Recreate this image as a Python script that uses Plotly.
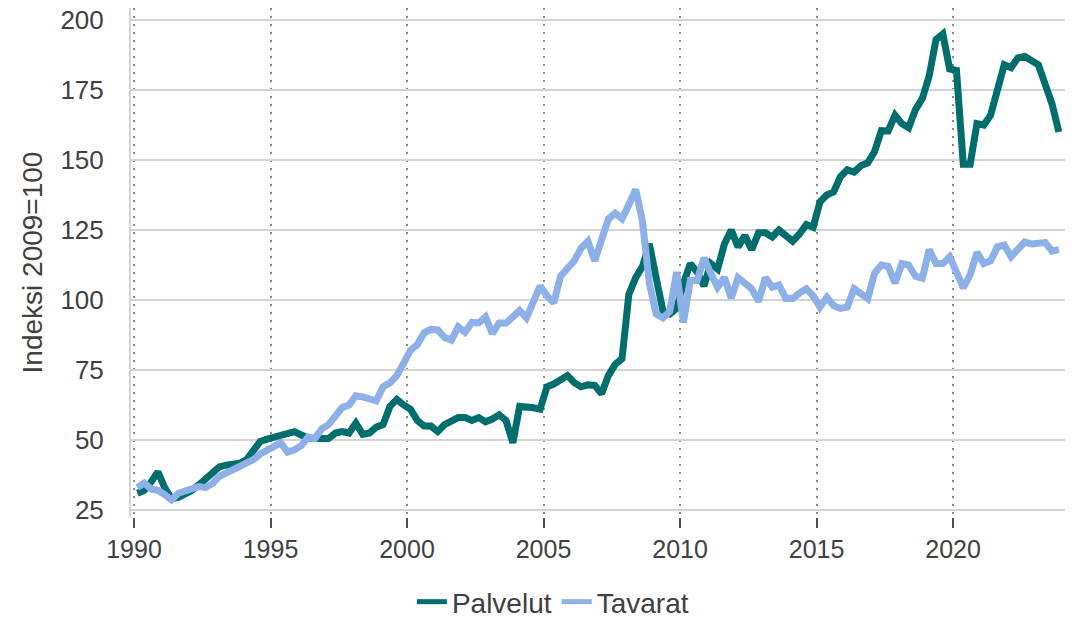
import plotly.graph_objects as go

start_year = 1990
years = list(range(1990, 2024))
quarters = [f"{y}Q{q}" for y in years for q in range(1, 5)]

palvelut = [
    31, 32, 35, 38.6,
    33, 29, 29.5, 30.5,
    32, 34, 36.4, 38,
    40.4, 41, 41.3, 41.7,
    43, 46, 49.5, 50.3,
    51, 51.5, 52, 53,
    51.8, 50.7, 50.5, 50.2,
    50.5, 52.5, 53, 52.5,
    56, 52, 52.5, 54.6,
    55.5, 62, 64.5, 62.5,
    61, 57, 55, 55,
    53, 55.5, 57, 58,
    58, 57, 58, 56.5,
    57.5, 59, 57, 49,
    62, 62, 61.5, 61,
    69, 70, 71.5, 73,
    70.5, 69, 69.7, 69.5,
    66.5, 73, 77, 79,
    102, 108, 112, 120,
    108, 96, 95, 97,
    106, 113, 110, 105,
    113, 111, 120, 125,
    119, 123, 118, 124,
    124, 122.5, 125, 123,
    121, 123.6, 127, 126,
    135, 137.5, 138.6, 144,
    146.5, 145.7, 148, 149,
    153, 160.5, 160.4, 166,
    163, 161.5, 168, 172,
    180, 193, 195, 182.5,
    182, 148.5, 148.5, 163,
    162.5, 166, 174, 184,
    183, 186.5, 187, 185.5,
    184, 177, 170, 160,
]

tavarat = [
    33, 34.6, 32.5, 32,
    30.5, 28.6, 31, 32,
    32.5, 33.4, 33, 34.5,
    37, 38, 39, 40.6,
    41.8, 43, 45, 46.3,
    47.8, 49, 45.7, 46.5,
    48, 51, 50.5, 54,
    55.5, 59, 61.6, 62.5,
    65.8, 65.4, 65, 64,
    69, 70.4, 73, 77.5,
    82, 84, 88.3, 89.5,
    89.3, 86.6, 85.7, 90.4,
    88.5, 92, 91.8, 94,
    88, 91.8, 91.8, 94,
    96.3, 93.6, 100, 105,
    101.5, 99, 108.5, 111,
    114, 118.5, 121, 114,
    121, 129, 131, 129,
    134, 139.5, 128, 106,
    95, 93.6, 96, 110,
    92, 107, 107, 115,
    109.6, 104.6, 108, 100.7,
    108, 106, 104, 99.5,
    108, 104.6, 105.4, 100.5,
    100.5, 102.5, 104, 101.5,
    97.5, 101, 98, 97,
    97.5, 104, 102.5, 100.5,
    109.6, 112.5, 112, 106,
    113, 112.5, 108.5, 107.8,
    118, 113, 113, 115.4,
    110, 104.3, 109, 117,
    113, 114, 119, 119.6,
    115.5, 118.5, 120.7, 120,
    120, 120.5, 117.5, 118,
]

x_ticks = [1990, 1995, 2000, 2005, 2010, 2015, 2020]
y_ticks = [25, 50, 75, 100, 125, 150, 175, 200]


def qpos(label):
    y, q = label.split("Q")
    return int(y) + (int(q) - 0.5) / 4


xs = [qpos(q) for q in quarters]

FONT = "Liberation Sans, Arial, sans-serif"
TEAL = "#006e6d"
BLUE = "#8db0e8"
TXT = "#404040"

fig = go.Figure()
fig.add_trace(go.Scatter(x=xs, y=palvelut, name="Palvelut", mode="lines",
                         line=dict(color=TEAL, width=7)))
fig.add_trace(go.Scatter(x=xs, y=tavarat, name="Tavarat", mode="lines",
                         line=dict(color=BLUE, width=7)))

fig.add_shape(type="line", xref="paper", x0=0, x1=1, yref="y", y0=100, y1=100,
              line=dict(color="#8a8a8a", width=2), layer="below")

fig.update_layout(
    width=1079, height=620,
    margin=dict(l=123, r=22, t=0, b=111),
    paper_bgcolor="white", plot_bgcolor="white",
    font=dict(family=FONT, size=25, color=TXT),
    showlegend=True,
    legend=dict(orientation="h", xref="container", x=0.505, xanchor="center",
                yref="container", y=0.042, yanchor="middle",
                font=dict(size=28, color=TXT), itemwidth=30,
                tracegroupgap=0, itemsizing="constant"),
    xaxis=dict(range=[1989.89, 2024.1], tickmode="array", tickvals=x_ticks,
               ticktext=[str(t) for t in x_ticks], automargin=False,
               showgrid=True, gridcolor="#8a8a8a", gridwidth=2, griddash="2px,6px",
               ticks="outside", ticklen=10, tickwidth=2, tickcolor="#505050",
               showline=False, zeroline=False, ticklabeloverflow="allow",
               tickfont=dict(size=25, color=TXT)),
    yaxis=dict(range=[22.5, 204.3], tickmode="array", tickvals=y_ticks,
               showgrid=True, gridcolor="#d4d4d4", gridwidth=1.5, automargin=False,
               showline=True, linecolor="#d4d4d4", linewidth=2,
               ticks="", zeroline=False, ticklabelstandoff=20,
               ticklabeloverflow="allow",
               title=dict(text="Indeksi 2009=100", standoff=10,
                          font=dict(size=28, color=TXT)),
               tickfont=dict(size=26, color=TXT)),
)

fig.write_html("out.html")
